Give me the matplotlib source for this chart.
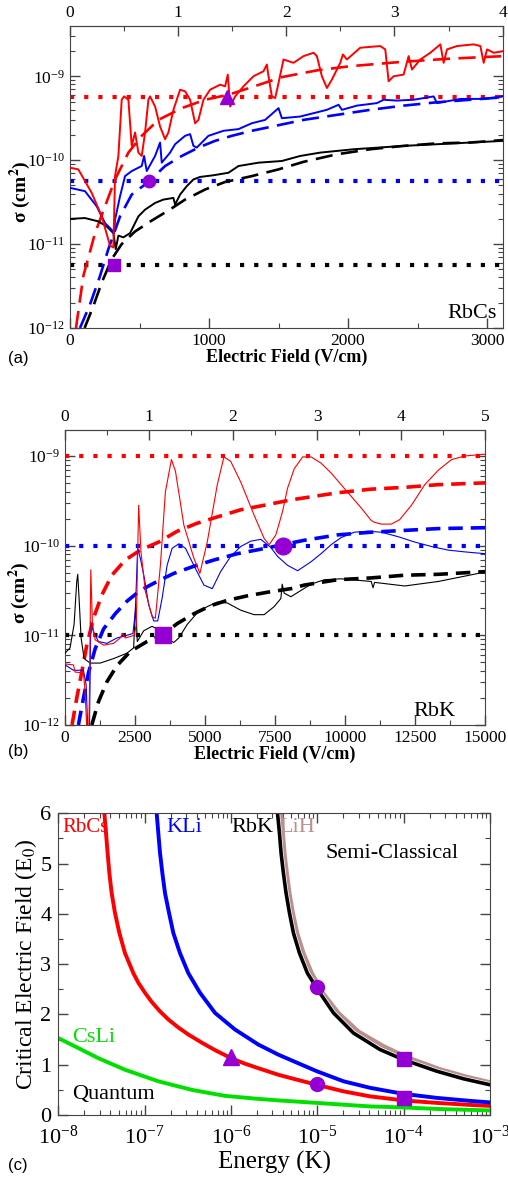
import numpy as np
import matplotlib
matplotlib.use('Agg')
import matplotlib.pyplot as plt
from matplotlib.ticker import MultipleLocator, LogLocator, NullFormatter, FixedLocator

plt.rcParams['font.family'] = 'serif'
plt.rcParams['font.serif'] = ['Liberation Serif', 'DejaVu Serif']
plt.rcParams['mathtext.fontset'] = 'stix'

PURPLE = '#9400d3'
FRAME = '#444444'

# ---------------- panel (a): RbCs  (field in V/cm, log10 sigma in cm^2)
a_E0 = 778.0  # V/cm per unit of the top axis
a_top_ticks = [0, 1, 2, 3, 4]
a_red_E = [0, 60, 156, 228, 288, 312, 324, 348, 372, 389, 420, 444, 468, 492, 516, 540, 564, 576, 612, 648,
           684, 708, 744, 792, 828, 864, 900, 924, 960, 1008, 1080, 1116, 1135, 1152, 1188, 1248, 1320, 1392,
           1416, 1428, 1452, 1476, 1500, 1536, 1608, 1680, 1752, 1776, 1812, 1848, 1884, 1944, 1963, 1992,
           2088, 2232, 2268, 2292, 2328, 2400, 2436, 2460, 2520, 2592, 2664, 2688, 2712, 2784, 2904, 2952,
           2976, 3000, 3048, 3120]
a_red_logsig = [-10.09, -10.11, -10.39, -10.67, -11.02, -11.04, -10.19, -9.95, -9.28, -9.24, -9.28, -9.83, -9.67,
                -9.91, -9.95, -9.67, -9.28, -9.24, -9.36, -9.60, -9.75, -9.67, -9.40, -9.16, -9.18, -9.28, -9.56,
                -9.52, -9.28, -9.16, -9.10, -9.12, -8.98, -9.36, -9.24, -9.12, -9.00, -8.94, -8.86, -9.00, -9.24,
                -9.26, -9.08, -8.80, -8.84, -8.76, -8.72, -8.76, -9.00, -9.14, -9.04, -8.84, -8.74, -8.80, -8.66,
                -8.64, -8.68, -9.06, -9.00, -8.98, -8.76, -8.92, -8.80, -8.72, -8.62, -8.84, -8.68, -8.64, -8.62,
                -8.64, -8.84, -8.68, -8.72, -8.70]
a_red_dash_E = [43, 96, 180, 252, 324, 420, 516, 636, 804, 972, 1140, 1308, 1524, 1776, 2016, 2376, 2736, 3120]
a_red_dash_logsig = [-12.0, -11.38, -10.87, -10.55, -10.23, -9.91, -9.71, -9.52, -9.38, -9.28, -9.22, -9.13,
                     -9.01, -8.93, -8.88, -8.83, -8.79, -8.76]

a_blue_E = [0, 108, 192, 252, 300, 317, 324, 360, 396, 444, 516, 533, 552, 612, 648, 660, 720, 756, 828, 864,
            888, 912, 996, 1104, 1212, 1308, 1404, 1500, 1524, 1656, 1848, 1932, 1956, 2064, 2208, 2256, 2352,
            2472, 2616, 2640, 2808, 2976, 3120]
a_blue_logsig = [-10.33, -10.37, -10.55, -10.75, -10.83, -10.87, -10.71, -10.43, -10.19, -10.13, -10.07, -9.95,
                 -10.13, -9.95, -9.79, -10.03, -9.91, -9.81, -9.71, -9.69, -9.83, -9.85, -9.71, -9.65, -9.63,
                 -9.56, -9.52, -9.38, -9.50, -9.48, -9.40, -9.34, -9.40, -9.35, -9.32, -9.28, -9.29, -9.28, -9.24,
                 -9.32, -9.27, -9.27, -9.24]
a_blue_dash_E = [72, 144, 216, 276, 360, 444, 564, 684, 804, 924, 1044, 1164, 1308, 1452, 1680, 1920, 2160,
                 2400, 2640, 2880, 3120]
a_blue_dash_logsig = [-12.0, -11.72, -11.38, -11.06, -10.67, -10.41, -10.26, -10.07, -9.95, -9.85, -9.77, -9.71,
                      -9.65, -9.60, -9.52, -9.46, -9.40, -9.35, -9.31, -9.28, -9.25]

a_black_E = [0, 108, 204, 264, 312, 329, 348, 384, 432, 492, 540, 612, 672, 744, 756, 792, 840, 888, 936, 1032,
             1140, 1212, 1356, 1524, 1656, 1800, 2040, 2400, 2640, 2880, 3120]
a_black_logsig = [-10.70, -10.69, -10.73, -10.79, -10.87, -11.06, -10.90, -10.92, -10.87, -10.67, -10.59, -10.51,
                  -10.47, -10.45, -10.53, -10.41, -10.31, -10.23, -10.20, -10.18, -10.15, -10.07, -10.03, -10.01,
                  -9.95, -9.91, -9.87, -9.83, -9.81, -9.79, -9.77]
a_black_dash_E = [105, 168, 228, 300, 372, 468, 588, 708, 828, 972, 1116, 1308, 1500, 1680, 1920, 2160, 2400,
                  2640, 2880, 3120]
a_black_dash_logsig = [-12.0, -11.74, -11.46, -11.18, -11.00, -10.85, -10.72, -10.60, -10.47, -10.35, -10.26,
                       -10.19, -10.11, -10.02, -9.93, -9.87, -9.83, -9.80, -9.79, -9.76]

a_dotted_logsig = [-9.25, -10.25, -11.25]
a_marker_E = [1130, 571, 319]
a_marker_logsig = [-9.25, -10.25, -11.25]
a_marker_shapes = ['^', 'o', 's']

# ---------------- panel (b): RbK
b_E0 = 3000.0
b_top_ticks = [0, 1, 2, 3, 4, 5]
b_red_E = [0, 299, 359, 658, 717, 777, 849, 873, 920, 980, 1076, 1375, 1733, 1972, 2056, 2151, 2474, 2546, 2629,
           2713, 2868, 3107, 3227, 3406, 3585, 3800, 3944, 4243, 4601, 4816, 5079, 5438, 5676, 5916, 6274, 6752,
           7111, 7290, 7529, 7768, 7947, 8188, 8307, 8486, 8785, 9143, 9502, 9860, 10219, 10578, 10936, 11056,
           11295, 11653, 11952, 12370, 12848, 13326, 13804, 14282, 15000]
b_red_logsig = [-11.32, -11.33, -11.41, -11.42, -11.63, -12.04, -12.04, -11.63, -10.27, -10.88, -11.05, -11.11,
                -11.09, -11.03, -10.98, -11.03, -11.00, -10.88, -9.55, -10.07, -10.51, -10.79, -10.81, -10.22,
                -9.40, -9.04, -9.17, -9.77, -10.14, -10.31, -9.96, -9.32, -9.01, -9.06, -9.29, -9.66, -9.92,
                -9.99, -9.88, -9.62, -9.36, -9.14, -9.09, -9.01, -9.01, -9.08, -9.19, -9.32, -9.45, -9.58, -9.72,
                -9.74, -9.76, -9.76, -9.71, -9.55, -9.32, -9.16, -9.04, -9.00, -8.98]
b_red_dash_E = [250, 419, 598, 777, 1016, 1315, 1673, 2151, 2689, 3346, 4004, 4721, 5438, 6274, 7111, 8066,
                9741, 10936, 12131, 13326, 15000]
b_red_dash_logsig = [-12.0, -11.70, -11.41, -11.11, -10.81, -10.55, -10.33, -10.16, -10.05, -9.96, -9.84, -9.75,
                     -9.68, -9.60, -9.55, -9.49, -9.41, -9.37, -9.35, -9.32, -9.30]

b_blue_E = [0, 299, 658, 753, 813, 873, 920, 1016, 1195, 1494, 1853, 2211, 2426, 2510, 2593, 2689, 2832, 2988,
            3167, 3310, 3466, 3645, 3824, 4063, 4302, 4601, 4960, 5258, 5557, 5916, 6274, 6633, 6991, 7350, 7590,
            7949, 8307, 8450, 8785, 9143, 9502, 9860, 10339, 10817, 11295, 11892, 12490, 13088, 13685, 14282,
            15000]
b_blue_logsig = [-11.33, -11.39, -11.39, -11.55, -12.04, -12.04, -10.85, -10.96, -11.07, -11.09, -11.03, -11.00,
                 -10.98, -10.74, -10.03, -10.14, -10.36, -10.66, -10.84, -10.84, -10.59, -10.22, -10.03, -9.98,
                 -10.03, -10.22, -10.44, -10.48, -10.29, -10.12, -10.01, -9.95, -9.93, -10.02, -10.12, -10.22,
                 -10.28, -10.25, -10.18, -10.09, -9.99, -9.91, -9.85, -9.84, -9.85, -9.90, -9.96, -10.01, -10.05,
                 -10.07, -10.09]
b_blue_dash_E = [478, 658, 837, 1076, 1375, 1793, 2211, 2689, 3287, 3884, 4601, 5318, 6155, 6991, 7768, 8546,
                 9741, 10936, 12131, 13326, 15000]
b_blue_dash_logsig = [-12.0, -11.70, -11.42, -11.15, -10.93, -10.76, -10.62, -10.50, -10.40, -10.31, -10.23,
                      -10.16, -10.09, -10.04, -9.99, -9.94, -9.88, -9.85, -9.83, -9.81, -9.80]

b_black_E = [0, 179, 323, 419, 454, 502, 574, 681, 897, 1255, 1733, 2211, 2450, 2522, 2581, 2809, 3107, 3406,
             3705, 3884, 4063, 4362, 4721, 5079, 5438, 5796, 6274, 6752, 7111, 7469, 7708, 7756, 7827, 8066,
             8785, 9263, 9860, 10936, 11000, 11056, 12131, 13326, 14760, 15000]
b_black_logsig = [-11.20, -11.14, -10.88, -10.40, -10.32, -10.59, -11.03, -11.26, -11.31, -11.31, -11.26, -11.20,
                  -11.14, -10.65, -11.07, -10.95, -10.90, -10.95, -11.05, -11.08, -11.03, -10.88, -10.75, -10.68,
                  -10.63, -10.64, -10.72, -10.77, -10.77, -10.68, -10.59, -10.43, -10.53, -10.57, -10.43, -10.38,
                  -10.37, -10.40, -10.47, -10.41, -10.45, -10.40, -10.31, -10.29]
b_black_dash_E = [956, 1195, 1494, 1853, 2331, 2928, 3466, 4004, 4601, 5199, 5796, 6513, 7230, 8066, 8546, 9741,
                  10936, 12131, 13326, 15000]
b_black_dash_logsig = [-12.0, -11.74, -11.52, -11.34, -11.18, -11.07, -11.0, -10.87, -10.76, -10.67, -10.61,
                       -10.56, -10.52, -10.48, -10.44, -10.38, -10.36, -10.33, -10.32, -10.29]

b_dotted_logsig = [-9.0, -10.0, -11.0]
b_marker_E = [7800, 3500]
b_marker_logsig = [-10.0, -11.0]
b_marker_shapes = ['o', 's']

# ---------------- panel (c): critical field vs collision energy (log10 K)
c_rbcs_logK = [-7.469, -7.448, -7.429, -7.409, -7.382, -7.344, -7.293, -7.228, -7.131, -7.073, -6.996, -6.919,
               -6.822, -6.726, -6.610, -6.494, -6.340, -6.185, -6.0, -5.838, -5.683, -5.452, -5.277, -5.006,
               -4.697, -4.389, -4.003, -3.616, -3.230, -2.999]
c_rbcs_field = [6.05, 5.61, 5.21, 4.81, 4.41, 4.02, 3.62, 3.22, 2.82, 2.63, 2.43, 2.25, 2.06, 1.90, 1.74, 1.60,
                1.44, 1.29, 1.13, 1.02, 0.93, 0.80, 0.72, 0.60, 0.47, 0.37, 0.29, 0.24, 0.20, 0.18]
c_kli_logK = [-6.863, -6.842, -6.822, -6.795, -6.764, -6.718, -6.668, -6.591, -6.494, -6.359, -6.185, -5.954,
              -5.683, -5.452, -5.277, -5.006, -4.697, -4.389, -4.003, -3.616, -3.230, -2.999]
c_kli_field = [6.05, 5.61, 5.21, 4.81, 4.41, 4.02, 3.62, 3.22, 2.82, 2.43, 2.03, 1.70, 1.40, 1.20, 1.07, 0.87,
               0.67, 0.54, 0.42, 0.34, 0.28, 0.25]
c_csli_logK = [-8.0, -7.768, -7.537, -7.228, -6.842, -6.456, -6.069, -5.683, -5.452, -5.006, -4.389, -4.003,
               -3.616, -2.999]
c_csli_field = [1.53, 1.33, 1.13, 0.90, 0.67, 0.50, 0.38, 0.32, 0.29, 0.24, 0.17, 0.15, 0.12, 0.09]
c_rbk_logK = [-5.464, -5.439, -5.420, -5.393, -5.362, -5.323, -5.277, -5.207, -5.115, -4.987, -4.813, -4.582,
              -4.273, -4.003, -3.616, -3.308, -2.999]
c_rbk_field = [6.05, 5.61, 5.21, 4.81, 4.41, 4.02, 3.62, 3.22, 2.82, 2.47, 2.03, 1.63, 1.30, 1.10, 0.87, 0.72,
               0.60]
c_lih_logK = [-5.425, -5.400, -5.381, -5.354, -5.323, -5.284, -5.234, -5.161, -5.064, -4.937, -4.756, -4.524,
              -4.234, -3.964, -3.578, -3.269, -2.999]
c_lih_field = [6.05, 5.61, 5.21, 4.81, 4.41, 4.02, 3.62, 3.22, 2.82, 2.43, 2.03, 1.66, 1.37, 1.15, 0.91, 0.76,
               0.65]
c_marker_logK = [-6.0, -5.0, -5.0, -4.0, -4.0]
c_marker_field = [1.15, 0.61, 2.54, 1.11, 0.34]
c_marker_shapes = ['^', 'o', 'o', 's', 's']

fig = plt.figure(figsize=(5.08, 11.78), dpi=100)


def frame(ax):
    for sp in ax.spines.values():
        sp.set_color(FRAME)
    ax.tick_params(which='both', color=FRAME)


def style_sigma_axes(ax, xmax, e0, xmaj, xmin, top_ticks, lbl_size):
    ax.set_yscale('log')
    ax.set_xlim(0, xmax)
    ax.xaxis.set_major_locator(MultipleLocator(xmaj))
    ax.xaxis.set_minor_locator(MultipleLocator(xmin))
    ax.yaxis.set_major_locator(LogLocator(base=10, numticks=10))
    ax.yaxis.set_minor_locator(LogLocator(base=10, subs=np.arange(2, 10), numticks=50))
    ax.yaxis.set_minor_formatter(NullFormatter())
    ax.tick_params(which='both', direction='in', top=False, right=True, labelsize=lbl_size)
    ax.tick_params(which='major', length=7, width=1)
    ax.tick_params(which='minor', length=3.5, width=0.8)
    frame(ax)
    sec = ax.secondary_xaxis('top', functions=(lambda e: e / e0, lambda u: u * e0))
    sec.xaxis.set_major_locator(FixedLocator(top_ticks))
    sec.xaxis.set_minor_locator(FixedLocator([t + 0.5 for t in top_ticks[:-1]]))
    sec.tick_params(which='both', direction='in', labelsize=lbl_size, color=FRAME)
    sec.tick_params(which='major', length=7, width=1)
    sec.tick_params(which='minor', length=3.5, width=0.8)
    sec.spines['top'].set_color(FRAME)
    ax.set_xlabel('Electric Field (V/cm)', fontsize=13, fontweight='bold', labelpad=0)
    ax.set_ylabel(r'σ (cm$^{\mathbf{2}}$)', fontsize=14, fontweight='bold')


# ---------- (a)
ax = fig.add_axes([0.1378, 0.7216, 0.8524, 0.2564])
for lv, col in zip(a_dotted_logsig, ['red', 'blue', 'black']):
    ax.axhline(10.0 ** lv, color=col, lw=3, ls=(0, (1, 2.4)), zorder=2)
for E, L, col in [(a_black_dash_E, a_black_dash_logsig, 'black'), (a_blue_dash_E, a_blue_dash_logsig, 'blue'),
                  (a_red_dash_E, a_red_dash_logsig, 'red')]:
    ax.plot(E, 10.0 ** np.array(L), color=col, lw=1.9, ls=(0, (6.5, 3.2)), zorder=3)
for E, L, col in [(a_black_E, a_black_logsig, 'black'), (a_blue_E, a_blue_logsig, 'blue'),
                  (a_red_E, a_red_logsig, 'red')]:
    ax.plot(E, 10.0 ** np.array(L), color=col, lw=1.4, zorder=4)
for E, L, m in zip(a_marker_E, a_marker_logsig, a_marker_shapes):
    ax.plot(E, 10.0 ** L, marker=m, ms=9 if m != '^' else 10, color=PURPLE, ls='none', zorder=6)
ax.set_ylim(1e-12, 10.0 ** -8.4)
style_sigma_axes(ax, 3115, a_E0, 1000, 500, a_top_ticks, 12.5)
ax.yaxis.set_label_coords(-0.085, 0.45)
ax.text(0.985, 0.015, 'RbCs', transform=ax.transAxes, ha='right', va='bottom', fontsize=16)
fig.text(0.016, 0.696, '(a)', fontsize=12, family='Liberation Sans', va='center')

# ---------- (b)
ax = fig.add_axes([0.128, 0.3846, 0.8268, 0.2504])
for lv, col in zip(b_dotted_logsig, ['red', 'blue', 'black']):
    ax.axhline(10.0 ** lv, color=col, lw=3, ls=(0, (1, 2.4)), zorder=2)
for E, L, col in [(b_black_dash_E, b_black_dash_logsig, 'black'), (b_blue_dash_E, b_blue_dash_logsig, 'blue'),
                  (b_red_dash_E, b_red_dash_logsig, 'red')]:
    ax.plot(E, 10.0 ** np.array(L), color=col, lw=2.6, ls=(0, (4.0, 2.2)), zorder=3)
for E, L, col in [(b_black_E, b_black_logsig, 'black'), (b_blue_E, b_blue_logsig, 'blue'),
                  (b_red_E, b_red_logsig, 'red')]:
    ax.plot(E, 10.0 ** np.array(L), color=col, lw=0.8, zorder=4)
for E, L, m in zip(b_marker_E, b_marker_logsig, b_marker_shapes):
    ax.plot(E, 10.0 ** L, marker=m, ms=12 if m == 'o' else 11, color=PURPLE, ls='none', zorder=6)
ax.set_ylim(1e-12, 10.0 ** -8.71)
style_sigma_axes(ax, 15000, b_E0, 2500, 1250, b_top_ticks, 12.5)
ax.yaxis.set_label_coords(-0.079, 0.45)
ax.text(0.93, 0.015, 'RbK', transform=ax.transAxes, ha='right', va='bottom', fontsize=16)
fig.text(0.016, 0.3617, '(b)', fontsize=12, family='Liberation Sans', va='center')

# ---------- (c)
ax = fig.add_axes([0.1148, 0.0535, 0.8498, 0.2561])
ax.plot(10.0 ** np.array(c_csli_logK), c_csli_field, color='#00e000', lw=2.8)
ax.plot(10.0 ** np.array(c_rbcs_logK), c_rbcs_field, color='red', lw=2.8)
ax.plot(10.0 ** np.array(c_kli_logK), c_kli_field, color='blue', lw=2.8)
ax.plot(10.0 ** np.array(c_lih_logK), c_lih_field, color='#bc8f8f', lw=3.0)
ax.plot(10.0 ** np.array(c_rbk_logK), c_rbk_field, color='white', lw=3.6)
ax.plot(10.0 ** np.array(c_rbk_logK), c_rbk_field, color='black', lw=2.6)
for lk, f, m in zip(c_marker_logK, c_marker_field, c_marker_shapes):
    ax.plot(10.0 ** lk, f, marker=m, ms=10 if m != '^' else 11, color=PURPLE, ls='none', zorder=6)
ax.set_xscale('log')
ax.set_xlim(1e-8, 1e-3)
ax.set_ylim(0, 6)
ax.yaxis.set_major_locator(MultipleLocator(1))
ax.yaxis.set_minor_locator(MultipleLocator(0.5))
ax.xaxis.set_major_locator(LogLocator(base=10, numticks=10))
ax.xaxis.set_minor_locator(LogLocator(base=10, subs=np.arange(2, 10), numticks=60))
ax.xaxis.set_minor_formatter(NullFormatter())
ax.tick_params(which='both', direction='in', top=True, right=True, labelsize=16)
ax.tick_params(axis='x', pad=8)
ax.tick_params(axis='y', pad=5)
ax.tick_params(which='major', length=7, width=1)
ax.tick_params(which='minor', length=3.5, width=0.8)
frame(ax)
ax.set_xlabel('Energy (K)', fontsize=18, labelpad=1)
ax.set_ylabel(r'Critical Electric Field (E$_0$)', fontsize=17, labelpad=1)
ax.text(1.1e-8, 5.71, 'RbCs', color='red', fontsize=15, ha='left', va='center')
ax.text(1.8e-7, 5.71, 'KLi', color='blue', fontsize=16, ha='left', va='center')
ax.text(1.0e-6, 5.71, 'RbK', color='black', fontsize=16, ha='left', va='center')
ax.text(3.6e-6, 5.71, 'LiH', color='#bc8f8f', fontsize=16, ha='left', va='center')
ax.text(1.23e-5, 5.21, 'Semi-Classical', color='black', fontsize=16, ha='left', va='center')
ax.text(1.45e-8, 1.55, 'CsLi', color='#00e000', fontsize=16, ha='left', va='center')
ax.text(1.45e-8, 0.40, 'Quantum', color='black', fontsize=16, ha='left', va='center')
fig.text(0.016, 0.011, '(c)', fontsize=12, family='Liberation Sans', va='center')

fig.savefig('out.png', dpi=100)
